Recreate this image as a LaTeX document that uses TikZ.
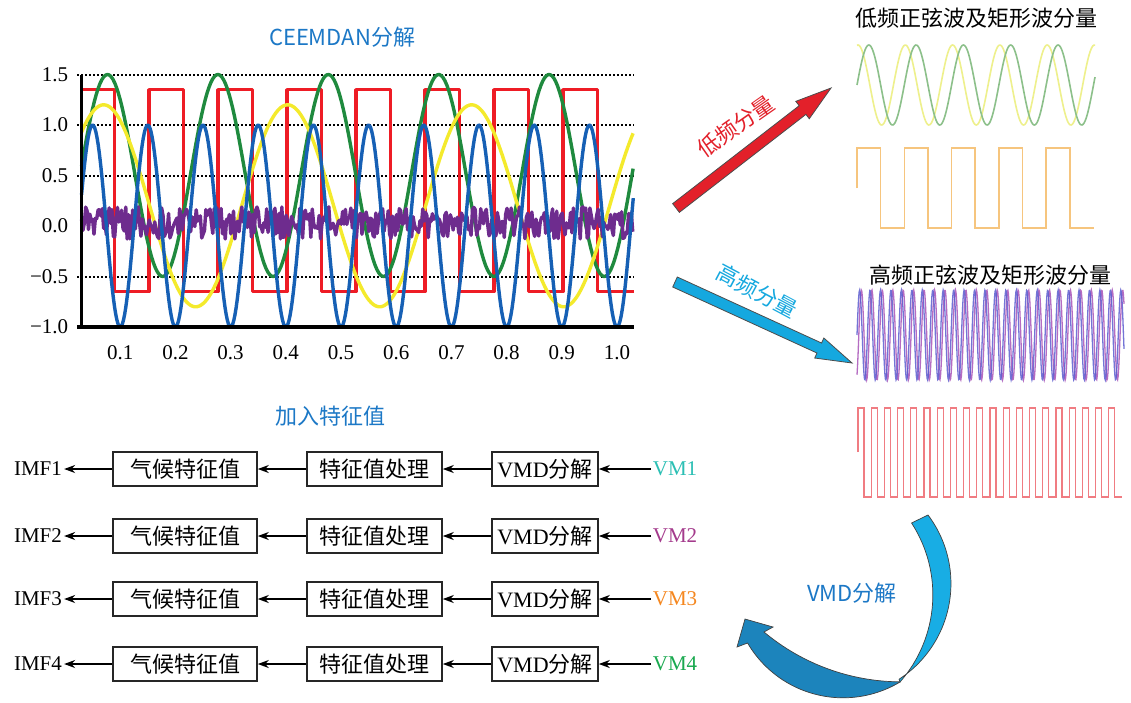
\documentclass[tikz,border=0pt]{standalone}
\usepackage{fontspec}
\setmainfont{Liberation Serif}
\newfontfamily\zhfont{Noto Sans CJK SC}
\usetikzlibrary{arrows.meta,calc}

\definecolor{ceemblue}{HTML}{1C78C6}
\definecolor{sqred}{HTML}{EE1C25}
\definecolor{sinegreen}{HTML}{1F8A3E}
\definecolor{sineyellow}{HTML}{F4EA2C}
\definecolor{sineblue}{HTML}{1660B5}
\definecolor{noisepurple}{HTML}{6E2C8E}
\definecolor{lowgreen}{HTML}{8CC08A}
\definecolor{lowyellow}{HTML}{EEF08C}
\definecolor{loworange}{HTML}{F6C57E}
\definecolor{highblue}{HTML}{5C5CCF}
\definecolor{highpurple}{HTML}{B56CC2}
\definecolor{highred}{HTML}{F07C82}
\definecolor{arrowred}{HTML}{E3202A}
\definecolor{arrowcyan}{HTML}{15A8DF}
\definecolor{curvelight}{HTML}{18ADE4}
\definecolor{curvedark}{HTML}{1C84BC}
\definecolor{vmA}{HTML}{2BBFB4}
\definecolor{vmB}{HTML}{A43A8C}
\definecolor{vmC}{HTML}{F5871F}
\definecolor{vmD}{HTML}{19A94F}

\tikzset{
  box/.style={draw=black!85, line width=1.6pt, minimum height=34pt, inner sep=0pt,
    font=\fontsize{22pt}{24pt}\selectfont},
  lbl/.style={inner sep=2pt, font=\fontsize{21pt}{23pt}\selectfont},
  paneltitle/.style={text=ceemblue, font=\zhfont\fontsize{22pt}{24pt}\selectfont},
  headtxt/.style={font=\zhfont\fontsize{22pt}{24pt}\selectfont},
  ticklbl/.style={inner sep=0pt, font=\fontsize{21pt}{23pt}\selectfont},
  gridline/.style={line width=2pt, dash pattern=on 2pt off 2pt},
  wave/.style={line width=3.4pt, line join=round},
  thinwave/.style={line width=1.6pt},
  flow/.style={->, line width=1.6pt},
  arrowlbl/.style={font=\zhfont\fontsize{22pt}{24pt}\selectfont},
}

% block arrow from #1 to #2
\newcommand{\bigarrow}[3]{%
  \coordinate (#1-h) at ($(#2)!36pt!(#1)$);
  \filldraw[fill=#3, draw=black!70, line width=0.8pt]
    ($(#1)!5.5pt!90:(#2)$) -- ($(#1-h)!5.5pt!90:(#2)$) -- ($(#1-h)!11pt!90:(#2)$)
    -- (#2) -- ($(#1-h)!11pt!-90:(#2)$) -- ($(#1-h)!5.5pt!-90:(#2)$)
    -- ($(#1)!5.5pt!-90:(#2)$) -- cycle;
}

\begin{document}
\begin{tikzpicture}[x=1pt, y=-1pt, >={Stealth[length=11pt,width=8pt]}]
\fill[white] (0,0) rectangle (1131,702);
\useasboundingbox (0,0) rectangle (1131,702);

% CEEMDAN chart
\node[paneltitle] (ceemdan) at (342,37) {CEEMDAN分解};

\begin{scope}[xshift=65pt, yshift=-226pt, x=552pt, y=101pt]
  \foreach \v in {1.5,1.0,0.5,-0.5}
    \draw[gridline] (0.022,\v) -- (1.03,\v);
  \draw[wave, sqred] (0.03,0.35) -- (0.03,1.35) -- (0.09,1.35) -- (0.09,-0.65)
    \foreach \k in {1,...,7}{ -- ({0.027+0.125*\k},-0.65) -- ({0.027+0.125*\k},1.35)
      -- ({0.09+0.125*\k},1.35) -- ({0.09+0.125*\k},-0.65)}
    -- (1.03,-0.65);
  \draw[wave, sinegreen] plot[domain=0.03:1.03, samples=300] (\x, {0.5+cos(1800*(\x-0.077))});
  \draw[wave, sineyellow] plot[domain=0.03:1.03, samples=300] (\x, {0.2+cos(1080*(\x-0.07))});
  \pgfmathsetseed{7}
  \draw[wave, noisepurple] plot[domain=0.03:1.03, samples=400] (\x, {0.03+0.16*rand});
  \draw[wave, sineblue] plot[domain=0.03:1.03, samples=500] (\x, {-cos(3600*\x)});
  \draw[line width=2.2pt] (0.03,1.5) -- (0.03,-1.0);
  \draw[line width=4pt] (0.022,-1.0) -- (1.03,-1.0);
  \foreach \v/\t [count=\i] in {1.5/1.5, 1.0/1.0, 0.5/0.5, 0.0/0.0, -0.5/−0.5, -1.0/−1.0}
    \node[ticklbl, anchor=east] (ylab\i) at (0.006,\v) {\t};
  \foreach \t [count=\i] in {0.1,0.2,0.3,0.4,0.5,0.6,0.7,0.8,0.9,1.0}
    \node[ticklbl] (xlab\i) at (\t,-1.25) {\t};
\end{scope}

% low frequency panel
\node[headtxt] (lowhead) at (976,18) {低频正弦波及矩形波分量};
\draw[thinwave, lowyellow] plot[domain=857:1095, samples=240] (\x, {85-40*cos(7.611*(\x-858))});
\draw[thinwave, lowgreen] plot[domain=857:1095, samples=240] (\x, {85-40*sin(7.611*(\x-857))});
\draw[thinwave, loworange] (857,188) -- (857,148)
  \foreach \k in {1,...,4}{ -- ++(23.5,0) -- ++(0,80) -- ++(23.8,0) -- ++(0,-80)}
  -- ++(23.5,0) -- ++(0,80) -- ++(23.8,0);

% high frequency panel
\node[headtxt] (highhead) at (990,275) {高频正弦波及矩形波分量};
\draw[line width=1.3pt, highpurple] plot[domain=857:1124, samples=500] (\x, {335-45*sin(34.45*(\x-858.8))});
\draw[line width=1.3pt, highblue, opacity=0.85] plot[domain=857:1124, samples=500] (\x, {335-45*sin(34.45*(\x-857))});
\draw[line width=1.2pt, highred] (858,452) -- (858,408)
  \foreach \k in {1,...,19}{ -- ++(6,0) -- ++(0,89) -- ++(7.2,0) -- ++(0,-89)}
  -- ++(6,0) -- ++(0,89) -- ++(7,0);

% arrows to the panels
\coordinate (lowtail) at (676,208);
\coordinate (lowtip) at (831,88);
\bigarrow{lowtail}{lowtip}{arrowred}
\node[arrowlbl, rotate=35, text=arrowred] (lowlbl) at (736,126) {低频分量};

\coordinate (hightail) at (675,282);
\coordinate (hightip) at (852,363);
\bigarrow{hightail}{hightip}{arrowcyan}
\node[arrowlbl, rotate=-28, text=arrowcyan] (highlbl) at (757,291) {高频分量};

% curved VMD arrow
\filldraw[fill=curvedark, draw=black!75, line width=0.7pt]
  (900,682) arc[start angle=59, end angle=149.7, radius=110.6]
  -- (737,647) -- (745,619) -- (773,627) -- (764,632)
  arc[start angle=129.9, end angle=90.4, radius=214] -- cycle;
\filldraw[fill=curvelight, draw=black!75, line width=0.7pt]
  (928,515) arc[start angle=-37, end angle=57, radius=114]
  -- (900,682) arc[start angle=41.3, end angle=-33, radius=132] -- cycle;
\node[paneltitle] (vmdlbl) at (852,593) {VMD分解};

% feature rows
\node[paneltitle] (addfeat) at (330,416) {加入特征值};
\foreach \n/\y/\c in {1/469/vmA, 2/536/vmB, 3/599/vmC, 4/664/vmD}{
  \node[lbl] (imf\n) at (38,\y) {IMF\n};
  \node[box, minimum width=144pt] (clim\n) at (185,\y) {\zhfont 气候特征值};
  \node[box, minimum width=135pt] (proc\n) at (374.5,\y) {\zhfont 特征值处理};
  \node[box, minimum width=106pt] (vmd\n) at (545,\y) {VMD{\zhfont 分解}};
  \node[lbl, text=\c] (vm\n) at (675,\y) {VM\n};
  \draw[flow] (vm\n) -- (vmd\n);
  \draw[flow] (vmd\n) -- (proc\n);
  \draw[flow] (proc\n) -- (clim\n);
  \draw[flow] (clim\n) -- (imf\n);
}
\end{tikzpicture}
\end{document}
